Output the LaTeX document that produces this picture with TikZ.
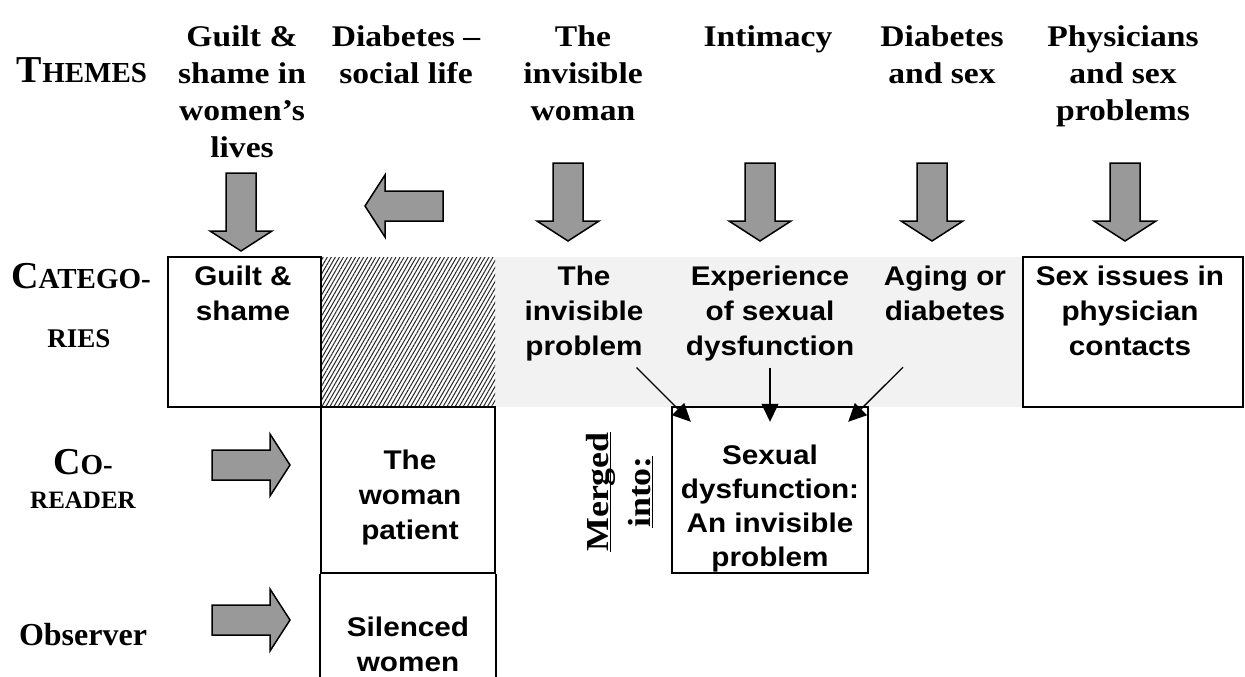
\documentclass[tikz,border=0pt]{standalone}
\usepackage{fontspec}
\usetikzlibrary{arrows.meta,patterns.meta}
\newfontfamily\catfont[FakeStretch=1.1]{Liberation Sans}
\newfontfamily\rowfont{Liberation Serif}
\newfontfamily\themefont[FakeStretch=1.12]{Liberation Serif}
\newcommand\smallcap[2]{{\fontsize{38}{38}\selectfont #1}{\fontsize{29}{29}\selectfont #2}}
\newcommand\ulword[1]{\setbox0\hbox{#1}\rlap{\rule[-2.5pt]{\wd0}{1.8pt}}\box0}

\tikzset{
  theme/.style={font=\themefont\bfseries\fontsize{30}{37}\selectfont, align=center, anchor=north, inner sep=0pt},
  rowlabel/.style={font=\rowfont\bfseries, align=center, inner sep=0pt},
  cat/.style={font=\catfont\bfseries\fontsize{27}{35}\selectfont, align=center, anchor=north, inner sep=0pt},
  catbox/.style={draw, line width=2.4pt, inner sep=0pt},
  merge/.style={-{Triangle[length=18pt,width=17pt]}, line width=1.3pt},
  blockarrow/.style={draw, line width=1.5pt, fill=black!40, line join=miter},
  fatarrow/.pic={\path[blockarrow] (0,-15) -- (58,-15) -- (58,-31) -- (78,0) -- (58,31) -- (58,15) -- (0,15) -- cycle;},
}

\begin{document}
\begin{tikzpicture}[x=1pt,y=-1pt]
\useasboundingbox (0,0) rectangle (1245,677);

% row labels
\node[rowlabel] (themes) at (82,70) {\smallcap{T}{HEMES}};
\node[rowlabel] (catego) at (81,276) {\smallcap{C}{ATEGO-}};
\node[rowlabel] (ries) at (79,339) {\fontsize{27}{27}\selectfont RIES};
\node[rowlabel] (co) at (83,462) {\smallcap{C}{O-}};
\node[rowlabel] (reader) at (83,500) {\fontsize{25}{25}\selectfont READER};
\node[rowlabel] (observer) at (83,635) {\fontsize{32}{32}\selectfont Observer};

% themes
\node[theme] (tguilt) at (242,25) {Guilt \&\\shame in\\women’s\\lives};
\node[theme] (tdiab) at (406,25) {Diabetes –\\social life};
\node[theme] (tinvis) at (583,25) {The\\invisible\\woman};
\node[theme] (tintim) at (768,25) {Intimacy};
\node[theme] (tsex) at (942,25) {Diabetes\\and sex};
\node[theme] (tphys) at (1123,25) {Physicians\\and sex\\problems};

\pic[rotate=-90] at (241,173) {fatarrow};
\pic[rotate=180] at (443,206) {fatarrow};
\pic[rotate=-90] at (568,163) {fatarrow};
\pic[rotate=-90] at (760,163) {fatarrow};
\pic[rotate=-90] at (932,163) {fatarrow};
\pic[rotate=-90] at (1125,163) {fatarrow};

% categories
\fill[black!5] (495,257) rectangle (1023,407);
\fill[pattern={Lines[angle=60,distance=3.5pt,line width=1pt]}, pattern color=black!85] (321,257) rectangle (495,407);

\node[catbox, minimum width=153, minimum height=150] (guiltbox) at (244.5,332) {};
\node[cat] (guilttxt) at (243,266) {Guilt \&\\shame};
\node[cat] (catinv) at (584,266) {The\\invisible\\problem};
\node[cat] (catexp) at (770,266) {Experience\\of sexual\\dysfunction};
\node[cat] (catage) at (945,266) {Aging or\\diabetes};
\node[catbox, minimum width=220, minimum height=150] (physbox) at (1133,332) {};
\node[cat] (phystxt) at (1130,266) {Sex issues in\\physician\\contacts};

% co-reader and observer
\pic at (212,465) {fatarrow};
\pic at (212,620) {fatarrow};
\node[catbox, minimum width=174, minimum height=166] (woman) at (408,490) {};
\node[cat] (womantxt) at (410,450) {The\\woman\\patient};
\draw[line width=2.4pt] (woman.south west) -- ++(0,104);
\draw[line width=2.4pt] (woman.south east) -- ++(0,104);
\node[cat] (silenced) at (408,617) {Silenced\\women};

% merged
\node[font=\themefont\bfseries\fontsize{32}{42}\selectfont, rotate=90, align=center, inner sep=0pt] (mergelbl) at (620,492) {\ulword{Merged}\\\ulword{into:}};
\node[catbox, minimum width=196, minimum height=166] (merged) at (770,490) {};
\node[cat, font=\catfont\bfseries\fontsize{27}{34}\selectfont] (mergedtxt) at (770,445) {Sexual\\dysfunction:\\An invisible\\problem};

\draw[merge] ([shift={(-7,6)}]catinv.south east) -- ([shift={(20,16)}]merged.north west);
\draw[merge] ([shift={(0,6)}]catexp.south) -- ([shift={(0,16)}]merged.north);
\draw[merge] ([shift={(-42,46)}]catage.south) -- ([shift={(-21,16)}]merged.north east);
\end{tikzpicture}
\end{document}
